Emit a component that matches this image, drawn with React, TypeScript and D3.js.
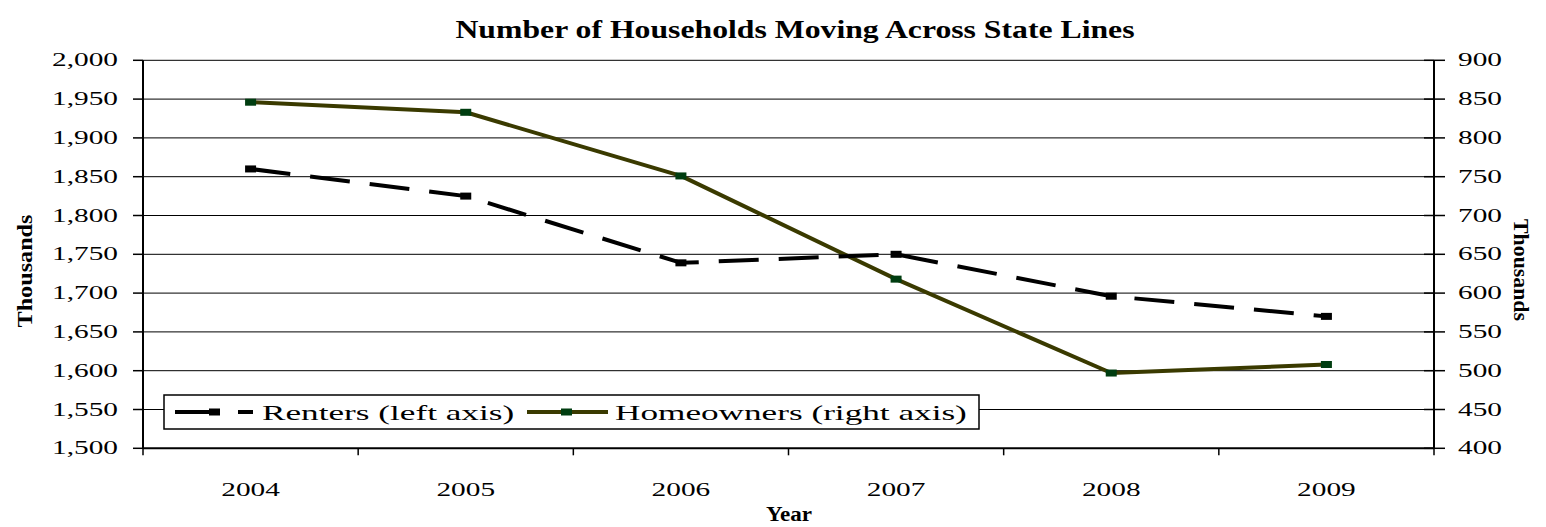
import React from "react";
import * as d3 from "d3";

const years = ["2004", "2005", "2006", "2007", "2008", "2009"];
const renters = [1860, 1825, 1739, 1750, 1696, 1670];
const homeowners = [846, 833, 751, 618, 497, 508];
const leftTicks = [1500, 1550, 1600, 1650, 1700, 1750, 1800, 1850, 1900, 1950, 2000];
const rightTicks = [400, 450, 500, 550, 600, 650, 700, 750, 800, 850, 900];

const W = 1546;
const H = 527;
const left = 143;
const right = 1434;
const top = 60.3;
const bottom = 448.3;
const SX = 1.63; // the picture's text is stretched sideways
const FONT = "'Liberation Serif', 'Times New Roman', serif";

const SText = ({ x, y, sx = SX, anchor = "start", size = 18, bold = false, children }: any) => (
  <text
    transform={`translate(${x},${y}) scale(${sx},1)`}
    textAnchor={anchor}
    fontSize={size}
    fontWeight={bold ? "bold" : "normal"}
    fontFamily={FONT}
    fill="#000"
  >
    {children}
  </text>
);

export default function App() {
  const x = d3.scaleBand().domain(years).range([left, right]);
  const yL = d3.scaleLinear().domain([1500, 2000]).range([bottom, top]);
  const yR = d3.scaleLinear().domain([400, 900]).range([bottom, top]);
  const cx = (d: string) => (x(d) as number) + x.bandwidth() / 2;
  const fmt = d3.format(",");

  const rentLine = d3
    .line<number>()
    .x((_, i) => cx(years[i]))
    .y((d) => yL(d))(renters);
  const homeLine = d3
    .line<number>()
    .x((_, i) => cx(years[i]))
    .y((d) => yR(d))(homeowners);

  const boundaries = years.map((d) => x(d) as number).concat([right]);

  return (
    <svg width={W} height={H} style={{ position: "absolute", left: 0, top: 0, background: "#fff" }}>
      <rect width={W} height={H} fill="#fff" />
      <SText x={795} y={38} anchor="middle" size={26} bold sx={1.22}>
        Number of Households Moving Across State Lines
      </SText>

      {/* gridlines */}
      {leftTicks.slice(1).map((t) => (
        <line key={t} x1={left} x2={right} y1={yL(t)} y2={yL(t)} stroke="#000" strokeWidth={1} />
      ))}

      {/* left axis */}
      <line x1={left} x2={left} y1={top} y2={bottom} stroke="#000" strokeWidth={2} />
      {leftTicks.map((t) => (
        <g key={t}>
          <line x1={left - 10} x2={left} y1={yL(t)} y2={yL(t)} stroke="#000" strokeWidth={1.5} />
          <SText x={118} y={yL(t) + 6} anchor="end">
            {fmt(t)}
          </SText>
        </g>
      ))}

      {/* right axis */}
      <line x1={right} x2={right} y1={top} y2={bottom} stroke="#000" strokeWidth={2} />
      {rightTicks.map((t) => (
        <g key={t}>
          <line x1={right - 10} x2={right + 11} y1={yR(t)} y2={yR(t)} stroke="#000" strokeWidth={1.5} />
          <SText x={1458} y={yR(t) + 6}>
            {t}
          </SText>
        </g>
      ))}

      {/* bottom axis */}
      <line x1={left} x2={right} y1={bottom} y2={bottom} stroke="#000" strokeWidth={2} />
      {boundaries.map((b, i) => (
        <line key={i} x1={b} x2={b} y1={bottom} y2={bottom + 7} stroke="#000" strokeWidth={1.5} />
      ))}
      {years.map((d) => (
        <SText key={d} x={cx(d)} y={496} anchor="middle">
          {d}
        </SText>
      ))}
      <SText x={789} y={521} anchor="middle" size={22} bold sx={1.05}>
        Year
      </SText>

      {/* axis titles */}
      <text
        transform={`translate(32,271) rotate(-90)`}
        textAnchor="middle"
        fontSize={22}
        fontWeight="bold"
        fontFamily={FONT}
        textLength={113}
        lengthAdjust="spacingAndGlyphs"
      >
        Thousands
      </text>
      <text
        transform={`translate(1514,270) rotate(90)`}
        textAnchor="middle"
        fontSize={22}
        fontWeight="bold"
        fontFamily={FONT}
        textLength={102}
        lengthAdjust="spacingAndGlyphs"
      >
        Thousands
      </text>

      {/* series */}
      <path d={homeLine || ""} fill="none" stroke="#3a3a00" strokeWidth={4} strokeLinejoin="round" />
      {homeowners.map((v, i) => (
        <rect key={i} x={cx(years[i]) - 5.5} y={yR(v) - 3.5} width={11} height={7} fill="#003d10" />
      ))}
      <path d={rentLine || ""} fill="none" stroke="#000" strokeWidth={4} strokeDasharray="40,20" />
      {renters.map((v, i) => (
        <rect key={i} x={cx(years[i]) - 5.5} y={yL(v) - 3.5} width={11} height={7} fill="#000" />
      ))}

      {/* legend */}
      <rect x={164} y={395} width={815} height={34} fill="#fff" stroke="#000" strokeWidth={1.5} />
      <line x1={175} x2={253} y1={412} y2={412} stroke="#000" strokeWidth={4} strokeDasharray="42,21" />
      <rect x={209} y={408.5} width={11} height={7} fill="#000" />
      <SText x={262} y={420} size={22} sx={1.6}>
        Renters (left axis)
      </SText>
      <line x1={527} x2={608} y1={412} y2={412} stroke="#3a3a00" strokeWidth={4} />
      <rect x={561} y={408.5} width={11} height={7} fill="#003d10" />
      <SText x={615} y={420} size={22} sx={1.6}>
        Homeowners (right axis)
      </SText>
    </svg>
  );
}
